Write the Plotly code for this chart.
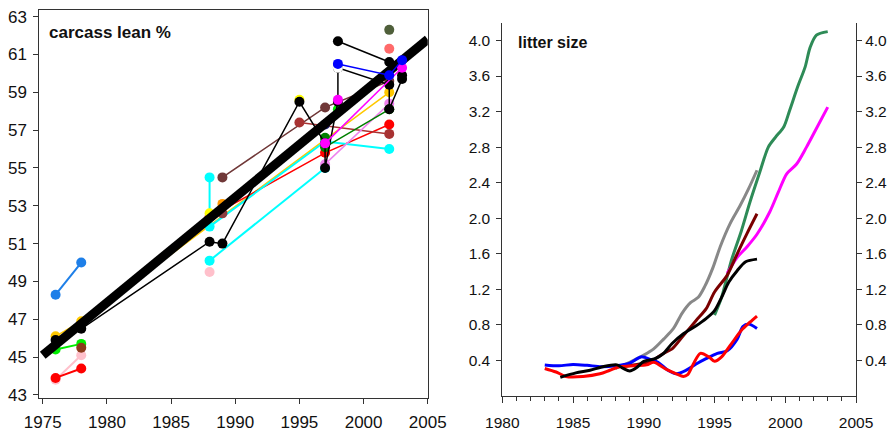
import plotly.graph_objects as go

# ---------------- carcass lean % (left panel) ----------------
trend_years = [1975.0, 2005.0]
trend_lean = [45.1, 61.8]

dodger_years = [1976, 1978]
dodger_lean = [48.3, 50.0]
gold_years = [1976, 1978, 1997, 2002]
gold_lean = [46.1, 46.9, 56.5, 59.0]
lime_years = [1976, 1978]
lime_lean = [45.4, 45.7]
pink_years = [1976, 1978]
pink_lean = [43.8, 45.1]
red_early_years = [1976, 1978]
red_early_lean = [43.9, 44.4]
red_years = [1988, 1997, 2002]
red_lean = [52.4, 55.8, 57.3]
black_years = [1976, 1978, 1988, 1989, 1995, 1997, 1997, 1998, 1998, 2002, 2002, 2003, 2003]
black_lean = [45.9, 46.5, 51.1, 51.0, 58.5, 56.3, 55.0, 58.5, 60.3, 59.4, 58.1, 59.7, 59.9]
black2_years = [1998, 2002]
black2_lean = [61.7, 60.6]
blue_years = [1998, 2002, 2003]
blue_lean = [60.5, 59.9, 60.7]
cyan_years = [1988, 1988, 1997, 2002]
cyan_lean = [54.5, 51.9, 56.4, 56.0]
cyan2_years = [1988, 1997]
cyan2_lean = [50.1, 55.0]
maroon_years = [1989, 1997, 2002]
maroon_lean = [54.5, 58.2, 59.6]
brown_years = [1995, 2002]
brown_lean = [57.4, 56.8]
green_years = [1997, 1997, 2002]
green_lean = [56.6, 56.1, 58.1]
magenta_years = [1997, 2003]
magenta_lean = [56.3, 60.3]
violet_years = [1997, 2002]
violet_lean = [55.2, 58.4]

# single observations (under the black series)
single_years = [1978, 1988, 1988, 1995, 1989, 1989, 1997, 1998, 2002, 2002]
single_lean = [45.5, 49.5, 52.6, 58.6, 53.1, 52.6, 57.3, 58.1, 62.3, 61.3]
single_colors = ["#8B3A1A", "#FFC0CB", "#FFFF00", "#FFFF00", "#FF9900", "#8B4040",
                 "#1A1A6E", "#00EE00", "#4F5F3A", "#FF6A6A"]
# single observations (over the black series)
top_single_years = [1998, 1998]
top_single_lean = [58.6, 60.3]
top_single_colors = ["#FF00FF", "#FFFFFF"]

# ---------------- litter size (right panel) ----------------
blue_ls_years = [1983, 1984, 1985, 1986, 1987, 1988, 1989, 1989.8, 1990.5, 1991, 1991.7, 1992.3,
                 1993, 1993.7, 1994.4, 1995.2, 1995.9, 1996.6, 1997, 1997.4, 1998]
blue_ls = [0.35, 0.34, 0.355, 0.345, 0.33, 0.34, 0.37, 0.44, 0.41, 0.38, 0.29, 0.25,
           0.29, 0.36, 0.42, 0.48, 0.51, 0.64, 0.78, 0.81, 0.76]
red_ls_years = [1983, 1983.8, 1984.5, 1985.7, 1986.9, 1987.6, 1988.3, 1989.3, 1990.2, 1990.7,
                1991.6, 1992.3, 1992.8, 1993.1, 1993.5, 1994, 1994.6, 1995, 1995.5, 1996.2,
                1996.9, 1997.5, 1998]
red_ls = [0.31, 0.27, 0.22, 0.22, 0.25, 0.29, 0.33, 0.34, 0.35, 0.38,
          0.30, 0.25, 0.22, 0.24, 0.36, 0.48, 0.44, 0.39, 0.44, 0.59,
          0.74, 0.83, 0.90]
black_ls_years = [1984.1, 1985.2, 1986.2, 1987.1, 1988.1, 1988.55, 1989, 1989.5, 1990, 1990.8,
                  1991.4, 1992, 1992.8, 1993.7, 1994.4, 1995, 1995.5, 1996, 1996.6, 1997.2, 1998]
black_ls = [0.21, 0.26, 0.29, 0.33, 0.35, 0.31, 0.28, 0.32, 0.39, 0.42,
            0.48, 0.59, 0.70, 0.79, 0.87, 0.96, 1.11, 1.28, 1.41, 1.51, 1.54]
gray_ls_years = [1988, 1989, 1990, 1990.7, 1991.4, 1992.1, 1992.7, 1993.3, 1993.85, 1994.3,
                 1994.9, 1995.4, 1996.1, 1996.8, 1997.4, 1998]
gray_ls = [0.31, 0.38, 0.46, 0.53, 0.64, 0.76, 0.93, 1.05, 1.11, 1.23,
           1.45, 1.68, 1.94, 2.14, 2.33, 2.54]
maroon_ls_years = [1988.5, 1989.7, 1990.4, 1991.4, 1992, 1992.8, 1993.7, 1994.4, 1995, 1995.9,
                   1996.6, 1997.3, 1998]
maroon_ls = [0.33, 0.36, 0.38, 0.48, 0.53, 0.68, 0.85, 0.98, 1.17, 1.36,
             1.60, 1.83, 2.05]
green_ls_years = [1995, 1995.5, 1996.2, 1996.9, 1997.5, 1998.2, 1998.8, 1999.3, 1999.9, 2000.3,
                  2000.9, 2001.4, 2001.75, 2002.2, 2003]
green_ls = [0.91, 1.11, 1.53, 1.86, 2.18, 2.52, 2.80, 2.91, 3.03, 3.21,
            3.49, 3.70, 3.92, 4.06, 4.10]
magenta_ls_years = [1995.9, 1996.6, 1997.3, 1998, 1998.9, 1999.5, 2000.1, 2000.8, 2001.5, 2002.2, 2003]
magenta_ls = [1.38, 1.56, 1.68, 1.82, 2.07, 2.29, 2.50, 2.61, 2.80, 3.01, 3.25]

left_ticks = list(range(43, 64, 2))
left_year_ticks = list(range(1975, 2006, 5))
right_ticks = [0.4, 0.8, 1.2, 1.6, 2.0, 2.4, 2.8, 3.2, 3.6, 4.0]
right_year_ticks = list(range(1980, 2006, 5))

FONT = "Liberation Sans, Arial, sans-serif"
fig = go.Figure()


def lean_series(x, y, color, width=1.5, size=10):
    fig.add_trace(go.Scatter(
        x=x, y=y, mode="lines+markers", xaxis="x", yaxis="y",
        line=dict(color=color, width=width),
        marker=dict(color=color, size=size, line=dict(width=0)),
        showlegend=False, hoverinfo="skip"))


def lean_points(x, y, colors):
    fig.add_trace(go.Scatter(
        x=x, y=y, mode="markers", xaxis="x", yaxis="y",
        marker=dict(color=colors, size=10, line=dict(width=0)),
        showlegend=False, hoverinfo="skip"))


lean_series(dodger_years, dodger_lean, "#1E7FE8", 2)
lean_series(pink_years, pink_lean, "#FFC0CB", 2)
lean_series(red_early_years, red_early_lean, "#FF0000", 2)
lean_series(lime_years, lime_lean, "#00EE00", 2)
lean_series(gold_years, gold_lean, "#FFC800", 1.5)
lean_series(red_years, red_lean, "#FF0000", 1.5)
lean_series(cyan2_years, cyan2_lean, "#00FFFF", 2)
lean_series(cyan_years, cyan_lean, "#00FFFF", 2)
lean_series(maroon_years, maroon_lean, "#703838", 1.5)
lean_series(brown_years, brown_lean, "#A83232", 1.5)
lean_series(violet_years, violet_lean, "#EE82EE", 1.5)
lean_series(green_years, green_lean, "#008000", 1.5)
lean_points(single_years, single_lean, single_colors)
lean_series(black_years, black_lean, "#000000", 1.5)
lean_points(top_single_years, top_single_lean, top_single_colors)

# regression trend
fig.add_trace(go.Scatter(
    x=trend_years, y=trend_lean, mode="lines", xaxis="x", yaxis="y",
    line=dict(color="#000000", width=9), showlegend=False, hoverinfo="skip"))

lean_series(magenta_years, magenta_lean, "#FF00FF", 1.5)
lean_series(blue_years, blue_lean, "#0000FF", 1.5)
lean_series(black2_years, black2_lean, "#000000", 1.5)


def litter_series(x, y, color):
    fig.add_trace(go.Scatter(
        x=x, y=y, mode="lines", xaxis="x2", yaxis="y2",
        line=dict(color=color, width=3, shape="spline", smoothing=0.8),
        showlegend=False, hoverinfo="skip"))


litter_series(gray_ls_years, gray_ls, "#888888")
litter_series(green_ls_years, green_ls, "#2E8B57")
litter_series(magenta_ls_years, magenta_ls, "#FF00FF")
litter_series(maroon_ls_years, maroon_ls, "#7A0000")
litter_series(blue_ls_years, blue_ls, "#0000FF")
litter_series(red_ls_years, red_ls, "#FF0000")
litter_series(black_ls_years, black_ls, "#000000")

# invisible trace so the right-hand axis gets drawn
fig.add_trace(go.Scatter(x=[1980], y=[0], xaxis="x2", yaxis="y3", mode="markers",
                         marker=dict(opacity=0), showlegend=False, hoverinfo="skip"))

tickfont_l = dict(family=FONT, size=17, color="#111111")
tickfont_r = dict(family=FONT, size=15.5, color="#111111")

common = dict(showgrid=False, zeroline=False, showline=True, linecolor="#333",
              linewidth=1, tickcolor="#333", ticks="outside", automargin=False)

fig.update_layout(
    width=893, height=431,
    margin=dict(l=0, r=0, t=0, b=0, autoexpand=False),
    paper_bgcolor="white", plot_bgcolor="white",
    font=dict(family=FONT),
    xaxis=dict(domain=[0.044, 0.479], range=[1974.73, 2005.0], tickvals=left_year_ticks,
               ticklen=5, mirror=True, tickfont=tickfont_l, anchor="y",
               ticklabelstandoff=4, **common),
    yaxis=dict(domain=[0.0766, 0.9768], range=[42.84, 63.35], tickvals=left_ticks,
               ticklen=5, mirror=True, tickfont=tickfont_l, anchor="x",
               ticklabelstandoff=3, **common),
    xaxis2=dict(domain=[0.5625, 0.9586], range=[1980, 2005], tickvals=right_year_ticks,
                ticklen=6, minor=dict(dtick=1, ticks="outside", ticklen=4, tickcolor="#333"),
                tickfont=tickfont_r, anchor="y2", ticklabelstandoff=6, **common),
    yaxis2=dict(domain=[0.0812, 0.9473], range=[0, 4.2], tickvals=right_ticks,
                tickformat=".1f", ticklen=5, tickfont=tickfont_r, anchor="x2",
                ticklabelstandoff=3, **common),
    yaxis3=dict(domain=[0.0812, 0.9473], range=[0, 4.2], tickvals=right_ticks,
                tickformat=".1f", ticklen=5, tickfont=tickfont_r, anchor="x2",
                overlaying="y2", side="right", **common),
    annotations=[
        dict(text="<b>carcass lean %</b>", x=47, y=32, xref="paper", yref="paper",
             showarrow=False, font=dict(family=FONT, size=17, color="#111"),
             xanchor="left", yanchor="middle"),
        dict(text="<b>litter size</b>", x=516, y=43, xref="paper", yref="paper",
             showarrow=False, font=dict(family=FONT, size=16, color="#111"),
             xanchor="left", yanchor="middle"),
    ],
)

# annotation positions given in pixels -> convert to paper fractions
for ann in fig.layout.annotations:
    ann.x = ann.x / 893
    ann.y = 1 - ann.y / 431

fig.write_html("out.html")
